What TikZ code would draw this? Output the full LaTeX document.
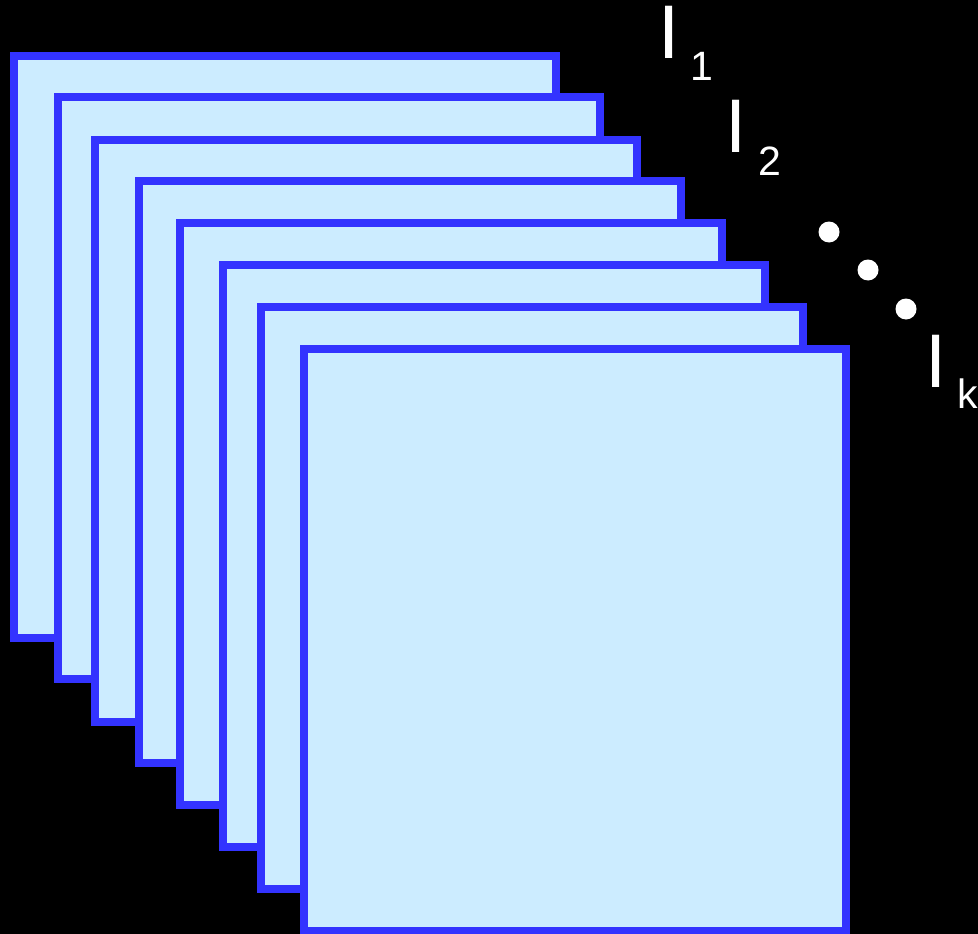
\documentclass[tikz,border=0pt]{standalone}
\usepackage{fontspec}
\setmainfont{Liberation Sans}
\definecolor{pagefill}{HTML}{CCECFF}
\definecolor{pageedge}{HTML}{3333FF}
\tikzset{
  sheet/.style={draw=pageedge, fill=pagefill, line width=8pt, rectangle,
    minimum width=542pt, minimum height=582pt, inner sep=0pt, anchor=north west},
  bigletter/.style={text=white, inner sep=0pt, anchor=base west, text height=52pt, text depth=0pt,
    font=\fontsize{76}{76}\selectfont},
  sublabel/.style={text=white, inner sep=0pt, anchor=base west, font=\fontsize{41}{41}\selectfont},
  elldot/.style={circle, fill=white, minimum size=21pt, inner sep=0pt}
}
\begin{document}
\begin{tikzpicture}[x=1pt,y=-1pt]
\fill[black] (0,0) rectangle (978,934);
\useasboundingbox (0,0) rectangle (978,934);
\foreach \i/\l/\t in {1/10/52, 2/54/93, 3/91/136, 4/135/177, 5/176/219, 6/219/261, 7/257/303, 8/300/345}{
  \node[sheet] (p\i) at (\l,\t) {};
}
\node[bigletter] (i1) at (658,59) {I};
\node[sublabel] (s1) at (690.5,81) {1};
\node[bigletter] (i2) at (725,152) {I};
\node[sublabel] (s2) at (758,175) {2};
\node[elldot] (d1) at (829,232) {};
\node[elldot] (d2) at (868,270) {};
\node[elldot] (d3) at (906,309) {};
\node[bigletter] (ik) at (925,387) {I};
\node[sublabel] (sk) at (957,408.5) {k};
\end{tikzpicture}
\end{document}
